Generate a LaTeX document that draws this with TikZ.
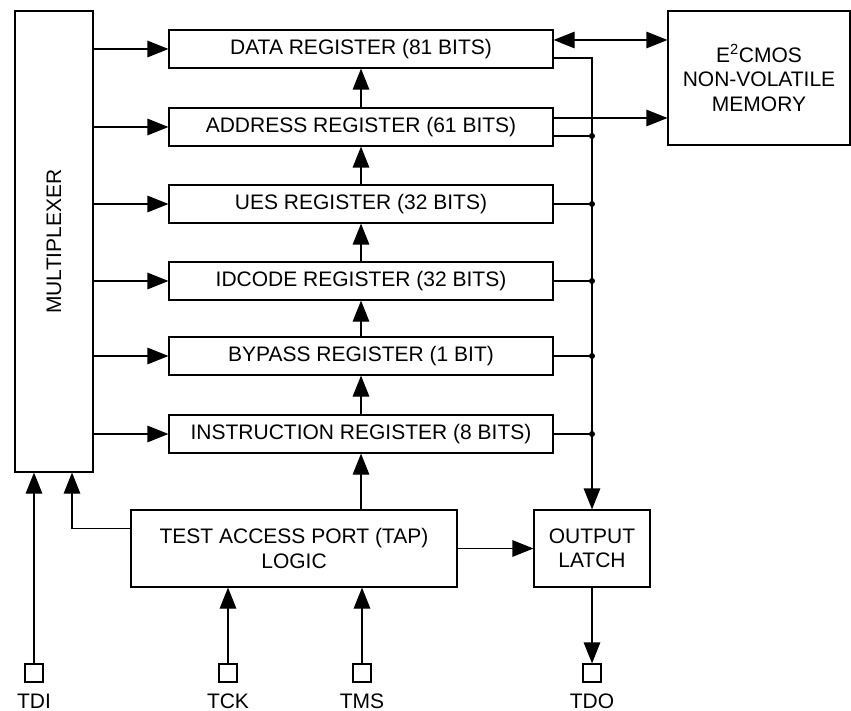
\documentclass[tikz,border=0pt]{standalone}
\usepackage{fontspec}
\setmainfont{Liberation Sans}
\usetikzlibrary{arrows.meta}

\begin{document}
\begin{tikzpicture}[x=1pt, y=-1pt, line width=1.2pt,
    box/.style={draw, inner sep=0pt, align=center, font=\fontsize{21}{24.5}\selectfont},
    reg/.style={box, minimum width=384pt, minimum height=38pt},
    pin/.style={draw, minimum size=18pt, inner sep=0pt},
    tip/.tip={Triangle[length=21pt, width=16.5pt]},
    arr/.style={-tip}]
    \useasboundingbox (0,0) rectangle (851,711);

    \node[box, minimum width=78pt, minimum height=461pt] (mux) at (54,241.5) {\rotatebox{90}{MULTIPLEXER}};
    \foreach \n/\y/\t in {data/49/DATA REGISTER (81 BITS), addr/127/ADDRESS REGISTER (61 BITS),
        ues/204/UES REGISTER (32 BITS), idcode/281/IDCODE REGISTER (32 BITS),
        bypass/356/BYPASS REGISTER (1 BIT), instr/434/INSTRUCTION REGISTER (8 BITS)}
        \node[reg] (\n) at (361,\y) {\t};
    \node[box, minimum width=182pt, minimum height=134pt] (mem) at (759,78) {E\textsuperscript{2}CMOS\\NON-VOLATILE\\MEMORY};
    \node[box, minimum width=326pt, minimum height=77pt] (tap) at (294,548.5) {TEST ACCESS PORT (TAP)\\LOGIC};
    \node[box, minimum width=116pt, minimum height=77pt] (latch) at (592,548.5) {OUTPUT\\LATCH};

    % pins
    \foreach \n/\x/\t in {tdi/34/TDI, tck/228/TCK, tms/362/TMS, tdo/592/TDO} {
        \node[pin] (\n) at (\x,673) {};
        \node[anchor=base, inner sep=0pt, font=\fontsize{21}{24}\selectfont] (\n-lbl) at (\x,708) {\t};
    }

    % multiplexer to registers, register chain
    \foreach \n in {data,addr,ues,idcode,bypass,instr} \draw[arr] (mux.east |- \n.west) -- (\n.west);
    \foreach \a/\b in {instr/bypass,bypass/idcode,idcode/ues,ues/addr,addr/data} \draw[arr] (\a.north) -- (\b.south);
    \draw[arr] (tap.north -| instr.south) -- (instr.south);

    % memory
    \coordinate (datamem) at ([yshift=9pt]data.east);
    \coordinate (addrmem) at ([yshift=9pt]addr.east);
    \draw[tip-tip] (datamem) -- (datamem -| mem.west);
    \draw[arr] (addrmem) -- (addrmem -| mem.west);

    % output bus
    \coordinate (dataout) at ([yshift=-9pt]data.east);
    \coordinate (addrout) at ([yshift=-9pt]addr.east);
    \draw[arr] (dataout) -| (latch.north);
    \foreach \p in {addrout,ues.east,idcode.east,bypass.east,instr.east} {
        \draw (\p) -- (\p -| latch.north);
        \fill (\p -| latch.north) circle (3pt);
    }

    % tap and pins
    \coordinate (tapout) at ([yshift=20pt]tap.west);
    \draw[arr] (tapout) -| ([xshift=18pt]mux.south);
    \draw[arr] (tdi.north) -- (tdi.north |- mux.south);
    \draw[arr] (tck.north) -- (tck.north |- tap.south);
    \draw[arr] (tms.north) -- (tms.north |- tap.south);
    \draw[arr] (tap.east) -- (latch.west);
    \draw[arr] (latch.south) -- (tdo.north);
\end{tikzpicture}
\end{document}
